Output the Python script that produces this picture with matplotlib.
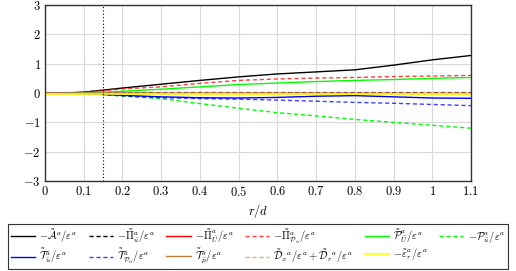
import matplotlib
matplotlib.use("Agg")
import matplotlib.pyplot as plt
from matplotlib.ticker import FuncFormatter

plt.rcParams['mathtext.fontset'] = 'cm'
plt.rcParams['font.family'] = ['DejaVu Serif']

# radial positions r/d
r = [0, 0.05, 0.1, 0.15, 0.2, 0.3, 0.4, 0.5, 0.6, 0.7, 0.8, 0.9, 1.0, 1.1]

# budget terms (normalised by epsilon^a)
adv = [0, 0, 0.03, 0.1, 0.17, 0.3, 0.43, 0.55, 0.65, 0.72, 0.79, 0.95, 1.13, 1.28]
pi_u = [0, 0, 0.0, 0.01, 0.01, 0.01, 0.01, 0.01, 0.01, 0.01, 0.01, 0.01, 0.01, 0.01]
pi_U = [0, 0, 0.0, 0.0, 0.0, 0.0, 0.0, 0.0, 0.0, 0.0, 0.0, 0.0, 0.0, 0.0]
pi_P = [0, 0, 0.02, 0.08, 0.14, 0.21, 0.33, 0.43, 0.48, 0.51, 0.53, 0.56, 0.58, 0.6]
prod_U = [0, 0, 0.01, 0.03, 0.06, 0.13, 0.21, 0.29, 0.34, 0.39, 0.43, 0.46, 0.5, 0.53]
prod_u = [0, 0, -0.01, -0.05, -0.1, -0.19, -0.36, -0.52, -0.67, -0.78, -0.9, -1.0, -1.1, -1.2]
t_u = [0, 0, -0.02, -0.05, -0.08, -0.13, -0.16, -0.17, -0.15, -0.11, -0.09, -0.13, -0.17, -0.18]
t_P = [0, 0, -0.02, -0.05, -0.1, -0.16, -0.19, -0.21, -0.24, -0.28, -0.32, -0.35, -0.39, -0.43]
t_p = [0, 0, 0.0, 0.0, 0.0, -0.01, -0.01, -0.01, -0.01, -0.01, -0.02, -0.02, -0.02, -0.02]
diff = [0.03, 0.03, 0.03, 0.03, 0.03, 0.03, 0.03, 0.03, 0.03, 0.03, 0.03, 0.03, 0.03, 0.03]
eps_r = [-0.02, -0.02, -0.02, -0.02, -0.02, -0.02, -0.02, -0.02, -0.02, -0.02, -0.02, -0.02, -0.02, -0.02]

labels = [
    r'$-\tilde{\mathcal{A}}^a/\varepsilon^a$',
    r'$-\tilde{\mathit{\Pi}}^a_{\tilde{u}}/\varepsilon^a$',
    r'$-\tilde{\mathit{\Pi}}^a_{\tilde{U}}/\varepsilon^a$',
    r'$-\tilde{\mathit{\Pi}}^a_{\mathcal{P}_{\tilde{u}}}/\varepsilon^a$',
    r'$\tilde{\mathcal{P}}^a_{\tilde{U}}/\varepsilon^a$',
    r'$-\mathcal{P}^a_{\tilde{u}}/\varepsilon^a$',
    r'$\tilde{\mathcal{T}}^a_{\tilde{u}}/\varepsilon^a$',
    r'$\tilde{\mathcal{T}}^a_{\mathcal{P}_{\tilde{u}}}/\varepsilon^a$',
    r'$\tilde{\mathcal{T}}^a_{\tilde{p}}/\varepsilon^a$',
    r'$\tilde{\mathcal{D}}_x{}^a/\varepsilon^a+\tilde{\mathcal{D}}_r{}^a/\varepsilon^a$',
    r'$-\tilde{\varepsilon}^a_r/\varepsilon^a$',
]

brown = (0.75, 0.5, 0.25)

fig = plt.figure(figsize=(5.16, 2.71), dpi=100)
ax = fig.add_axes([0.0872, 0.332, 0.8256, 0.6495])

h = {}
h[0], = ax.plot(r, adv, color='black', lw=1)
h[1], = ax.plot(r, pi_u, color='black', lw=1, ls=(0, (3, 2)))
h[2], = ax.plot(r, pi_U, color='red', lw=1)
h[3], = ax.plot(r, pi_P, color='red', lw=1, ls=(0, (3, 2)), alpha=0.75)
h[4], = ax.plot(r, prod_U, color='#00ff00', lw=1)
h[5], = ax.plot(r, prod_u, color='#00ff00', lw=1, ls=(0, (3, 2)))
h[6], = ax.plot(r, t_u, color='blue', lw=1)
h[7], = ax.plot(r, t_P, color='blue', lw=1, ls=(0, (3, 2)), alpha=0.75)
h[8], = ax.plot(r, t_p, color=brown, lw=1)
h[9], = ax.plot(r, diff, color=brown, lw=1, ls=(0, (3, 2)), alpha=0.6)
h[10], = ax.plot(r, eps_r, color='yellow', lw=1.2)

ax.axvline(0.15, color='black', lw=0.8, ls=(0, (1, 2)))

ax.set_xlim(0, 1.1)
ax.set_ylim(-3, 3)
ax.set_xticks([0, 0.1, 0.2, 0.3, 0.4, 0.5, 0.6, 0.7, 0.8, 0.9, 1.0, 1.1])
ax.set_yticks([-3, -2, -1, 0, 1, 2, 3])
ax.xaxis.set_major_formatter(FuncFormatter(lambda v, p: '$%g$' % round(v, 2)))
ax.yaxis.set_major_formatter(FuncFormatter(lambda v, p: '$%d$' % v))
ax.tick_params(direction='in', length=0, labelsize=9, pad=3)
ax.grid(True, color='#d9d9d9', lw=0.8)
for s in ax.spines.values():
    s.set_linewidth(1)
    s.set_color('#333333')
ax.set_xlabel(r'$r/d$', fontsize=9, labelpad=2)

order = [0, 6, 1, 7, 2, 8, 3, 9, 4, 10, 5]
leg = fig.legend([h[i] for i in order], [labels[i] for i in order],
                 loc='upper center', bbox_to_anchor=(0.5, 0.172), ncol=6,
                 fontsize=7.6, frameon=True, fancybox=False, edgecolor='black',
                 handlelength=2.3, handletextpad=0.4, columnspacing=1.05,
                 borderpad=0.25, labelspacing=0.15, borderaxespad=0)
leg.get_frame().set_linewidth(0.8)

fig.savefig('out.png', dpi=100)
